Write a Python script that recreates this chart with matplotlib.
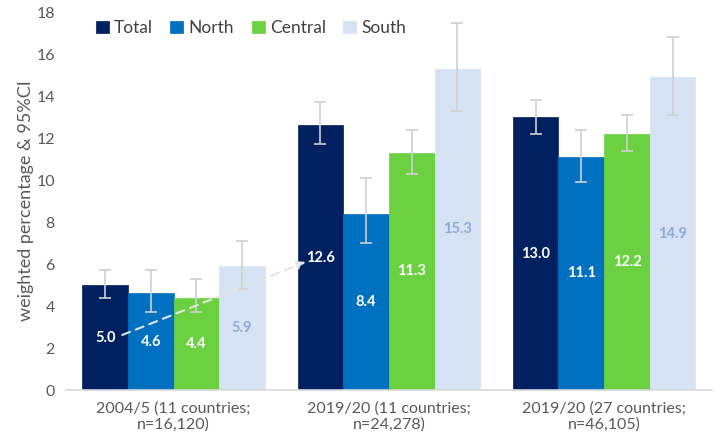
import matplotlib
matplotlib.use("Agg")
import matplotlib.pyplot as plt
import numpy as np

plt.rcParams['font.family'] = ['Lato', 'DejaVu Sans']

categories = ["2004/5 (11 countries;\nn=16,120)", "2019/20 (11 countries;\nn=24,278)", "2019/20 (27 countries;\nn=46,105)"]
series = ["Total", "North", "Central", "South"]
values = {
    "Total":   [5.0, 12.6, 13.0],
    "North":   [4.6, 8.4, 11.1],
    "Central": [4.4, 11.3, 12.2],
    "South":   [5.9, 15.3, 14.9],
}
ci_low = {
    "Total":   [4.4, 11.7, 12.2],
    "North":   [3.7, 7.0, 9.9],
    "Central": [3.7, 10.3, 11.4],
    "South":   [4.8, 13.3, 13.1],
}
ci_high = {
    "Total":   [5.7, 13.7, 13.8],
    "North":   [5.7, 10.1, 12.4],
    "Central": [5.3, 12.4, 13.1],
    "South":   [7.1, 17.5, 16.8],
}
colors = {"Total": "#002060", "North": "#0070C0", "Central": "#6CD141", "South": "#D6E3F4"}
label_colors = {"Total": "white", "North": "white", "Central": "white", "South": "#8EAADB"}

fig = plt.figure(figsize=(7.2, 4.47), dpi=100)
ax = fig.add_axes([0.0917, 0.1275, 0.8968, 0.8455])

x = np.arange(len(categories))
w = 0.212
for i, s in enumerate(series):
    xs = x + (i - 1.5) * w
    vals = np.array(values[s])
    lo = vals - np.array(ci_low[s])
    hi = np.array(ci_high[s]) - vals
    ax.bar(xs, vals, width=w, color=colors[s], label=s, zorder=2,
           edgecolor=colors[s], linewidth=0.5)
    ax.errorbar(xs, vals, yerr=[lo, hi], fmt='none', ecolor="#D0D0D0",
                elinewidth=1.2, capsize=4, capthick=1.2, zorder=3)
    for xi, v in zip(xs, vals):
        ax.text(xi, v / 2, f"{v:.1f}", ha='center', va='center', color=label_colors[s],
                fontsize=10.5, fontweight='bold', zorder=4)

# dashed arrow from 2004/5 total to 2019/20 total
ax.annotate("", xy=(x[1] - 2 * w + 0.037, 6.1), xytext=(x[0] - 2 * w + 0.185, 2.62),
            arrowprops=dict(arrowstyle='-|>', color="#E4E4E4", lw=1.5, linestyle=(0, (4, 3)),
                            mutation_scale=12, shrinkA=0, shrinkB=0), zorder=5)

ax.set_xlim(-0.5, 2.5)
ax.set_ylim(0, 18)
ax.set_yticks(np.arange(0, 19, 2))
ax.set_xticks(x)
ax.set_xticklabels(categories)
ax.tick_params(axis='both', length=0, colors="#595959", labelsize=11.5)
ax.tick_params(axis='x', pad=8)
ax.tick_params(axis='y', pad=8)
for sp in ['top', 'right', 'left']:
    ax.spines[sp].set_visible(False)
ax.spines['bottom'].set_color("#D9D9D9")
ax.spines['bottom'].set_linewidth(1.2)
ax.set_ylabel("weighted percentage & 95%CI", color="#595959", fontsize=13, labelpad=2)

leg = ax.legend(loc='upper left', bbox_to_anchor=(0.022, 1.02), ncol=4, frameon=False,
                fontsize=12.5, handlelength=0.75, handleheight=0.75, handletextpad=0.3,
                columnspacing=1.0)
for t in leg.get_texts():
    t.set_color("#404040")

fig.savefig("out.png", dpi=100)
